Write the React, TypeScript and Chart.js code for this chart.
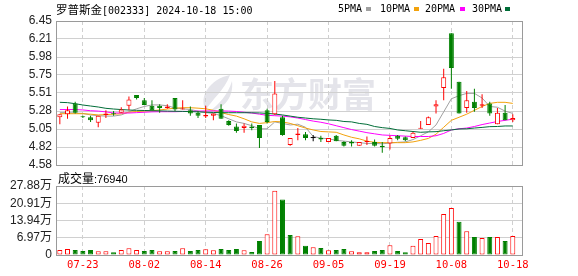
import { useEffect, useRef } from 'react';
import { Chart, registerables } from 'chart.js';

Chart.register(...registerables);

// ---------- data ----------
const dates = [
  '07-18', '07-19', '07-22', '07-23', '07-24', '07-25', '07-26', '07-29', '07-30', '07-31',
  '08-01', '08-02', '08-05', '08-06', '08-07', '08-08', '08-09', '08-12', '08-13', '08-14',
  '08-15', '08-16', '08-19', '08-20', '08-21', '08-22', '08-23', '08-26', '08-27', '08-28',
  '08-29', '08-30', '09-02', '09-03', '09-04', '09-05', '09-06', '09-09', '09-10', '09-11',
  '09-12', '09-13', '09-18', '09-19', '09-20', '09-23', '09-24', '09-25', '09-26', '09-27',
  '09-30', '10-08', '10-09', '10-10', '10-11', '10-14', '10-15', '10-16', '10-17', '10-18',
];

const openPrices = [
  5.20, 5.24, 5.38, 5.21, 5.20, 5.13, 5.23, 5.25, 5.26, 5.35,
  5.49, 5.42, 5.35, 5.35, 5.32, 5.45, 5.30, 5.29, 5.26, 5.21,
  5.22, 5.31, 5.15, 5.08, 5.06, 5.08, 5.10, 5.29, 5.24, 5.20,
  4.84, 4.97, 4.98, 4.93, 4.93, 4.88, 4.96, 4.88, 4.88, 4.83,
  4.88, 4.88, 4.83, 4.86, 4.96, 4.94, 4.93, 5.05, 5.10, 5.34,
  5.58, 6.29, 5.66, 5.32, 5.40, 5.35, 5.38, 5.11, 5.26, 5.16,
];
const highPrices = [
  5.24, 5.34, 5.40, 5.22, 5.22, 5.22, 5.29, 5.28, 5.33, 5.47,
  5.49, 5.45, 5.42, 5.37, 5.37, 5.45, 5.42, 5.34, 5.28, 5.35,
  5.25, 5.37, 5.16, 5.12, 5.12, 5.12, 5.10, 5.31, 5.67, 5.22,
  4.93, 5.06, 5.01, 4.97, 4.96, 4.93, 4.97, 4.89, 4.90, 4.88,
  4.95, 4.91, 4.88, 4.96, 4.97, 4.95, 5.01, 5.15, 5.21, 5.42,
  5.83, 6.29, 5.66, 5.54, 5.57, 5.50, 5.40, 5.32, 5.36, 5.24,
];
const lowPrices = [
  5.11, 5.18, 5.25, 5.19, 5.14, 5.07, 5.19, 5.22, 5.26, 5.29,
  5.43, 5.36, 5.29, 5.26, 5.31, 5.28, 5.30, 5.22, 5.19, 5.19,
  5.16, 5.18, 5.09, 5.00, 5.00, 5.03, 4.80, 5.12, 5.23, 4.96,
  4.83, 4.90, 4.90, 4.89, 4.88, 4.88, 4.89, 4.82, 4.82, 4.83,
  4.84, 4.82, 4.74, 4.78, 4.90, 4.89, 4.93, 5.05, 5.10, 5.25,
  5.42, 5.57, 5.25, 5.26, 5.27, 5.32, 5.22, 5.11, 5.16, 5.14,
];
const closePrices = [
  5.24, 5.29, 5.26, 5.20, 5.16, 5.22, 5.25, 5.24, 5.30, 5.43,
  5.45, 5.36, 5.29, 5.32, 5.34, 5.30, 5.31, 5.25, 5.22, 5.23,
  5.25, 5.18, 5.10, 5.02, 5.09, 5.06, 4.93, 5.14, 5.51, 4.97,
  4.93, 4.99, 4.93, 4.93, 4.91, 4.93, 4.89, 4.83, 4.86, 4.88,
  4.89, 4.83, 4.81, 4.93, 4.92, 4.90, 5.00, 5.06, 5.20, 5.37,
  5.72, 5.84, 5.25, 5.42, 5.32, 5.37, 5.25, 5.26, 5.16, 5.19,
];

const ma5 = [
  5.26, 5.26, 5.255, 5.25, 5.23, 5.22, 5.215, 5.215, 5.23, 5.27,
  5.31, 5.34, 5.36, 5.36, 5.35, 5.32, 5.31, 5.30, 5.28, 5.26,
  5.25, 5.22, 5.18, 5.14, 5.12, 5.09, 5.05, 5.05, 5.14, 5.12,
  5.10, 5.11, 5.07, 4.95, 4.93, 4.92, 4.90, 4.89, 4.88, 4.87,
  4.86, 4.86, 4.855, 4.865, 4.875, 4.88, 4.91, 4.96, 5.01, 5.10,
  5.27, 5.44, 5.48, 5.51, 5.51, 5.45, 5.34, 5.33, 5.28, 5.25,
];
const ma10 = [
  5.246, 5.246, 5.246, 5.246, 5.24, 5.23, 5.235, 5.24, 5.245, 5.265,
  5.275, 5.28, 5.285, 5.295, 5.307, 5.318, 5.324, 5.324, 5.318, 5.31,
  5.29, 5.26, 5.235, 5.215, 5.18, 5.14, 5.12, 5.13, 5.145, 5.14,
  5.12, 5.09, 5.06, 5.035, 5.015, 5.01, 5.005, 4.97, 4.94, 4.92,
  4.89, 4.875, 4.87, 4.87, 4.87, 4.87, 4.88, 4.90, 4.925, 4.98,
  5.07, 5.16, 5.20, 5.24, 5.29, 5.34, 5.38, 5.394, 5.394, 5.38,
];
const ma20 = [
  5.30, 5.30, 5.30, 5.295, 5.285, 5.28, 5.27, 5.255, 5.255, 5.255,
  5.26, 5.265, 5.27, 5.272, 5.272, 5.272, 5.275, 5.278, 5.28, 5.282,
  5.283, 5.283, 5.28, 5.275, 5.265, 5.255, 5.24, 5.225, 5.22, 5.215,
  5.205, 5.19, 5.17, 5.15, 5.135, 5.115, 5.09, 5.065, 5.04, 5.02,
  5.00, 4.985, 4.97, 4.965, 4.96, 4.955, 4.95, 4.95, 4.95, 4.96,
  4.99, 5.035, 5.05, 5.06, 5.08, 5.105, 5.125, 5.145, 5.16, 5.175,
];
const ma30 = [
  5.394, 5.39, 5.376, 5.359, 5.346, 5.333, 5.316, 5.307, 5.30, 5.294,
  5.29, 5.288, 5.285, 5.283, 5.28, 5.278, 5.276, 5.273, 5.27, 5.266,
  5.262, 5.26, 5.259, 5.259, 5.259, 5.258, 5.256, 5.25, 5.242, 5.23,
  5.215, 5.20, 5.19, 5.18, 5.174, 5.165, 5.16, 5.145, 5.14, 5.12,
  5.108, 5.08, 5.065, 5.055, 5.035, 5.025, 5.015, 5.005, 5.01, 5.013,
  5.025, 5.035, 5.048, 5.05, 5.06, 5.068, 5.078, 5.08, 5.087, 5.087,
];

const volumes = [
  20000, 24000, 20000, 16000, 20000, 15000, 15000, 11000, 20000, 27000,
  20000, 16000, 20000, 15000, 15000, 16000, 27000, 16000, 20000, 23000,
  19000, 24000, 20000, 24000, 19000, 12000, 57000, 84000, 260000, 224000,
  81000, 76000, 37000, 31000, 28000, 19000, 20000, 24000, 15000, 11000,
  11000, 16000, 20000, 39000, 16000, 11000, 37000, 65000, 48000, 77000,
  166000, 190000, 134000, 96000, 73000, 69000, 73000, 73000, 57000, 76940,
];
// 1 = red (hollow) volume bar, 0 = green volume bar
const volumeUp = [
  1, 1, 0, 0, 0, 1, 1, 0, 1, 1,
  1, 0, 0, 1, 1, 0, 1, 0, 0, 1,
  1, 0, 0, 0, 1, 0, 0, 1, 1, 0,
  0, 1, 0, 1, 0, 1, 0, 0, 1, 1,
  1, 0, 0, 1, 0, 0, 1, 1, 1, 1,
  1, 1, 0, 1, 0, 1, 0, 1, 0, 1,
];

const priceTickLabels = ['4.58', '4.82', '5.05', '5.28', '5.51', '5.75', '5.98', '6.21', '6.45'];
const volumeTickLabels = ['0', '6.97万', '13.94万', '20.91万', '27.88万'];
const dateTickLabels = ['07-23', '08-02', '08-14', '08-26', '09-05', '09-19', '10-08', '10-18'];

const PRICE_MIN = 4.58;
const PRICE_MAX = 6.45;
const VOLUME_MAX = 278800;

// ---------- styles ----------
const RED = '#ff0000';
const GREEN = '#008000';
const MA_COLORS = ['#a0a0a0', '#f2a20c', '#ff00ff', '#006d38'];
const GRID = '#d0d0d0';
const FRAME = '#9a9a9a';
const LABEL = '#222222';

const X_MIN = -0.5;
const X_MAX = 60.2;

const tickIndexes = dateTickLabels.map((d) => dates.indexOf(d));

const framePlugin = {
  id: 'frame',
  afterDraw(chart: any) {
    const { ctx, chartArea: a } = chart;
    ctx.save();
    ctx.strokeStyle = FRAME;
    ctx.lineWidth = 1;
    ctx.strokeRect(Math.round(a.left) + 0.5, Math.round(a.top) + 0.5, Math.round(a.right - a.left), Math.round(a.bottom - a.top));
    ctx.restore();
  },
};

const watermarkPlugin = {
  id: 'watermark',
  beforeDraw(chart: any) {
    const { ctx, chartArea: a } = chart;
    const wm = '#e4e4ea';
    ctx.save();
    ctx.fillStyle = wm;
    const lx = a.left + 146;
    const ly = a.top + 54;
    ctx.beginPath();
    ctx.moveTo(lx + 28, ly);
    ctx.bezierCurveTo(lx + 8, ly + 4, lx - 4, ly + 22, lx + 4, ly + 35);
    ctx.bezierCurveTo(lx + 10, ly + 24, lx + 22, ly + 16, lx + 28, ly);
    ctx.fill();
    ctx.beginPath();
    ctx.moveTo(lx + 30, ly + 6);
    ctx.bezierCurveTo(lx + 26, ly + 20, lx + 16, ly + 30, lx + 8, ly + 36);
    ctx.bezierCurveTo(lx + 22, ly + 34, lx + 32, ly + 22, lx + 30, ly + 6);
    ctx.fill();
    ctx.font = 'bold 34px "Noto Sans CJK SC", sans-serif';
    ctx.textBaseline = 'middle';
    ctx.textAlign = 'left';
    ctx.fillText('东方财富', a.left + 184, a.top + 73);
    ctx.restore();
  },
};

function xScale(showLabels: boolean) {
  return {
    type: 'linear',
    min: X_MIN,
    max: X_MAX,
    offset: false,
    bounds: 'data',
    afterBuildTicks: (s: any) => {
      s.ticks = tickIndexes.map((v) => ({ value: v }));
    },
    grid: { color: GRID, lineWidth: 1, drawTicks: false, offset: false },
    border: { display: false, dash: [4, 3] },
    ticks: {
      display: showLabels,
      autoSkip: false,
      maxRotation: 0,
      padding: 4,
      color: RED,
      font: { family: '"DejaVu Sans Mono", monospace', size: 10.5 },
      callback: (v: any) => dates[v] ?? '',
    },
    afterFit: (s: any) => {
      s.height = showLabels ? 21 : 0;
    },
  };
}

function yScale(min: number, max: number, labels: string[]) {
  return {
    type: 'linear',
    position: 'left',
    min,
    max,
    bounds: 'data',
    afterBuildTicks: (s: any) => {
      s.ticks = labels.map((_, k) => ({ value: min + (k * (max - min)) / (labels.length - 1) }));
    },
    grid: { color: GRID, lineWidth: 1, drawTicks: false },
    border: { display: false },
    ticks: {
      autoSkip: false,
      padding: 4,
      color: LABEL,
      font: { family: '"Liberation Sans", Arial, "Noto Sans CJK SC", sans-serif', size: 12 },
      callback: (_v: any, i: number) => labels[i],
    },
    afterFit: (s: any) => {
      s.width = 56;
    },
  };
}

export default function App() {
  const priceRef = useRef<HTMLCanvasElement>(null);
  const volRef = useRef<HTMLCanvasElement>(null);

  useEffect(() => {
    const dir = dates.map((_, i) =>
      closePrices[i] > openPrices[i] ? 1 : closePrices[i] < openPrices[i] ? -1 : 0
    );
    const candleColor = dir.map((d) => (d > 0 ? RED : d < 0 ? GREEN : '#000000'));
    const bodyFill = dir.map((d) => (d > 0 ? '#ffffff' : d < 0 ? GREEN : '#000000'));

    const maSets = [ma5, ma10, ma20, ma30].map((arr, k) => ({
      type: 'line',
      data: arr.map((v, i) => ({ x: i, y: v })),
      borderColor: MA_COLORS[k],
      borderWidth: 1,
      pointRadius: 0,
      tension: 0,
      order: 5 - k,
    }));

    const priceChart = new Chart(priceRef.current as HTMLCanvasElement, {
      type: 'bar',
      data: {
        datasets: [
          ...maSets,
          {
            type: 'bar',
            data: dates.map((_, i) => ({ x: i, y: [lowPrices[i], highPrices[i]] })),
            backgroundColor: candleColor,
            borderWidth: 0,
            barThickness: 1,
            grouped: false,
            inflateAmount: 0,
            order: 1,
          },
          {
            type: 'bar',
            data: dates.map((_, i) => ({
              x: i,
              y: [Math.min(openPrices[i], closePrices[i]), Math.max(openPrices[i], closePrices[i])],
            })),
            backgroundColor: bodyFill,
            borderColor: candleColor,
            borderWidth: dir.map((d) => (d === 0 ? 0 : 1)),
            borderSkipped: false,
            barThickness: 5,
            minBarLength: 1,
            grouped: false,
            inflateAmount: 0,
            order: 0,
          },
        ] as any,
      },
      options: {
        responsive: false,
        animation: false,
        events: [],
        layout: { padding: { top: 21, right: 56, bottom: 15, left: 0 } },
        plugins: { legend: { display: false }, tooltip: { enabled: false } },
        scales: {
          x: xScale(false) as any,
          y: yScale(PRICE_MIN, PRICE_MAX, priceTickLabels) as any,
        },
      },
      plugins: [watermarkPlugin, framePlugin],
    });

    const volChart = new Chart(volRef.current as HTMLCanvasElement, {
      type: 'bar',
      data: {
        datasets: [
          {
            data: volumes.map((v, i) => ({ x: i, y: v })),
            backgroundColor: volumeUp.map((u) => (u ? '#ffffff' : GREEN)),
            borderColor: volumeUp.map((u) => (u ? RED : GREEN)),
            borderWidth: 1,
            borderSkipped: false,
            barThickness: 5,
            grouped: false,
            inflateAmount: 0,
          },
        ] as any,
      },
      options: {
        responsive: false,
        animation: false,
        events: [],
        layout: { padding: { top: 14, right: 56, bottom: 0, left: 0 } },
        plugins: { legend: { display: false }, tooltip: { enabled: false } },
        scales: {
          x: xScale(true) as any,
          y: yScale(0, VOLUME_MAX, volumeTickLabels) as any,
        },
      },
      plugins: [framePlugin],
    });

    return () => {
      priceChart.destroy();
      volChart.destroy();
    };
  }, []);

  const mono = '"DejaVu Sans Mono", monospace';
  const cjk = '"Noto Sans CJK SC", sans-serif';
  const legend = [
    { t: '5PMA', x: 338, sx: 366, c: MA_COLORS[0] },
    { t: '10PMA', x: 380, sx: 414, c: MA_COLORS[1] },
    { t: '20PMA', x: 425, sx: 460, c: MA_COLORS[2] },
    { t: '30PMA', x: 472, sx: 505, c: MA_COLORS[3] },
  ];

  return (
    <div style={{ position: 'absolute', left: 0, top: 0, width: 578, height: 276, background: '#ffffff', overflow: 'hidden' }}>
      <canvas ref={priceRef} width={578} height={180} style={{ position: 'absolute', left: 0, top: 0, width: 578, height: 180 }} />
      <canvas ref={volRef} width={578} height={104} style={{ position: 'absolute', left: 0, top: 172, width: 578, height: 104 }} />
      <div style={{ position: 'absolute', left: 56, top: 1, height: 15, lineHeight: '15px', whiteSpace: 'nowrap', color: '#000' }}>
        <span style={{ fontFamily: cjk, fontSize: 11.5 }}>罗普斯金</span>
        <span style={{ fontFamily: mono, fontSize: 10 }}>[002333] 2024-10-18 15:00</span>
      </div>
      {legend.map((l) => (
        <div key={l.t}>
          <div style={{ position: 'absolute', left: l.x, top: 1, height: 15, lineHeight: '15px', fontFamily: mono, fontSize: 10, color: '#000', whiteSpace: 'nowrap' }}>
            {l.t}
          </div>
          <div style={{ position: 'absolute', left: l.sx, top: 7, width: 5, height: 4, background: l.c }} />
        </div>
      ))}
      <div style={{ position: 'absolute', left: 58, top: 170, height: 16, lineHeight: '16px', whiteSpace: 'nowrap', color: '#000' }}>
        <span style={{ fontFamily: cjk, fontSize: 12 }}>成交量</span>
        <span style={{ fontFamily: '"Liberation Sans", Arial, sans-serif', fontSize: 11 }}>:76940</span>
      </div>
    </div>
  );
}
